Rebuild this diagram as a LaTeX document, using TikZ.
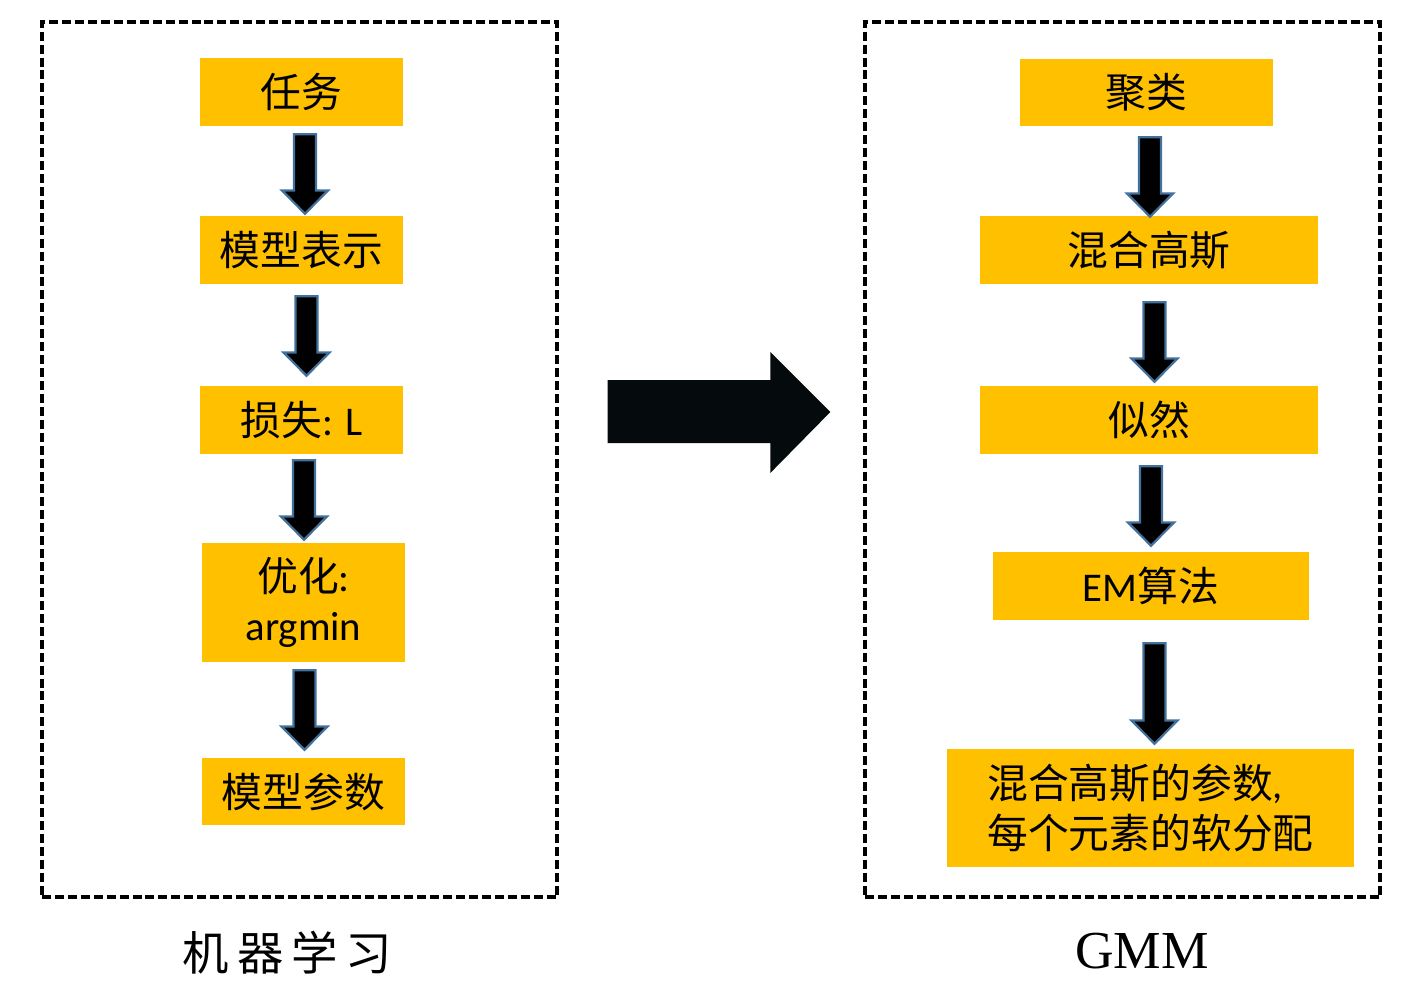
\documentclass[tikz,border=0pt]{standalone}
\usepackage{fontspec}
\setmainfont{Carlito}
\newfontfamily\zhfont{Noto Sans CJK SC}
\newfontfamily\capserif{Liberation Serif}
\usepackage{tikz}
\usetikzlibrary{calc}
\definecolor{boxyel}{HTML}{FFC000}
\definecolor{arrline}{HTML}{41719C}
\definecolor{bigblk}{HTML}{050A0C}
\newcommand{\zh}[1]{{\zhfont #1}}
\tikzset{
  stepbox/.style 2 args = {fill=boxyel, minimum width=#1*0.025cm,
                     minimum height=#2*0.025cm, inner sep=0pt,
                     font=\fontsize{29}{35}\selectfont, align=center},
  dframe/.style 2 args  = {draw=black, line width=2.4pt,
                     dash pattern=on 6.4pt off 2.8pt, inner sep=0pt,
                     minimum width=#1*0.025cm, minimum height=#2*0.025cm},
  dnarr/.style    = {fill=black, draw=arrline, line width=1.6pt, line join=miter},
  bigarr/.style   = {fill=bigblk},
  caplab/.style   = {font=\fontsize{33}{40}\selectfont},
}

\begin{document}
\begin{tikzpicture}[x=0.025cm, y=-0.025cm]
  \useasboundingbox (0,0) rectangle (1413,991);
  % frames
  \node[dframe={515}{875}] (mlframe)  at (299.5,459.5) {};
  \node[dframe={515}{875}] (gmmframe) at (1122.5,459.5) {};
  % machine learning side
  \node[stepbox={203}{68}]  (task)  at (301.5,92)    {\zh{任务}};
  \node[stepbox={203}{68}]  (model) at (301.5,250)   {\zh{模型表示}};
  \node[stepbox={203}{68}]  (loss)  at (301.5,420)   {\zh{损失}: L};
  \node[stepbox={203}{119}] (optim) at (303.5,602.5) {\zh{优化}:\\argmin};
  \node[stepbox={203}{67}]  (param) at (303.5,791.5) {\zh{模型参数}};
  % GMM side
  \node[stepbox={253}{67}]  (cluster) at (1146.5,92.5) {\zh{聚类}};
  \node[stepbox={338}{68}]  (gmix)    at (1149,250)    {\zh{混合高斯}};
  \node[stepbox={338}{68}]  (likeli)  at (1149,420)    {\zh{似然}};
  \node[stepbox={316}{68}]  (emalg)   at (1151,586)    {EM\zh{算法}};
  \node[stepbox={407}{118}, align=left] (result) at (1150.5,808)
    {\zh{混合高斯的参数},\\\zh{每个元素的软分配}};
  % down arrows
  \foreach \a/\b/\dx/\ga/\gb in {task/model/3.5/8/-2, model/loss/5/12/-10,
                                 loss/optim/2.5/6/-3, optim/param/1/8/-8,
                                 cluster/gmix/3.5/11/1, gmix/likeli/5.5/18/-4,
                                 likeli/emalg/2/12/-6, emalg/result/3.5/23/-5}{%
    \coordinate (atop) at ($(\a.south)+(\dx,\ga)$);
    \coordinate (atip) at ($(atop |- \b.north)+(0,\gb)$);
    \draw[dnarr] ($(atop)+(-0.275cm,0pt)$) -- ($(atip)+(-0.275cm,0.58cm)$)
      -- ($(atip)+(-0.575cm,0.58cm)$) -- (atip) -- ($(atip)+(0.575cm,0.58cm)$)
      -- ($(atip)+(0.275cm,0.58cm)$) -- ($(atop)+(0.275cm,0pt)$) -- cycle;}
  % big arrow between the frames
  \coordinate (bs) at ($(mlframe.east)+(49,-48)$);
  \coordinate (bt) at ($(gmmframe.west)+(-33,-47.5)$);
  \fill[bigarr] ($(bs)+(0,-31.5)$) -- ($(bt)+(-60,-32)$) -- ($(bt)+(-60,-60)$)
    -- (bt) -- ($(bt)+(-60,61)$) -- ($(bt)+(-60,31)$) -- ($(bs)+(0,31.5)$) -- cycle;
  % captions
  \node[caplab] (mllab) at (287.5,953)
    {\zh{机\hspace{0.2cm}器\hspace{0.2cm}学\hspace{0.2cm}习}};
  \node[font=\capserif\fontsize{38}{44}\selectfont] (gmmlab) at (1142,951) {GMM};
\end{tikzpicture}
\end{document}
